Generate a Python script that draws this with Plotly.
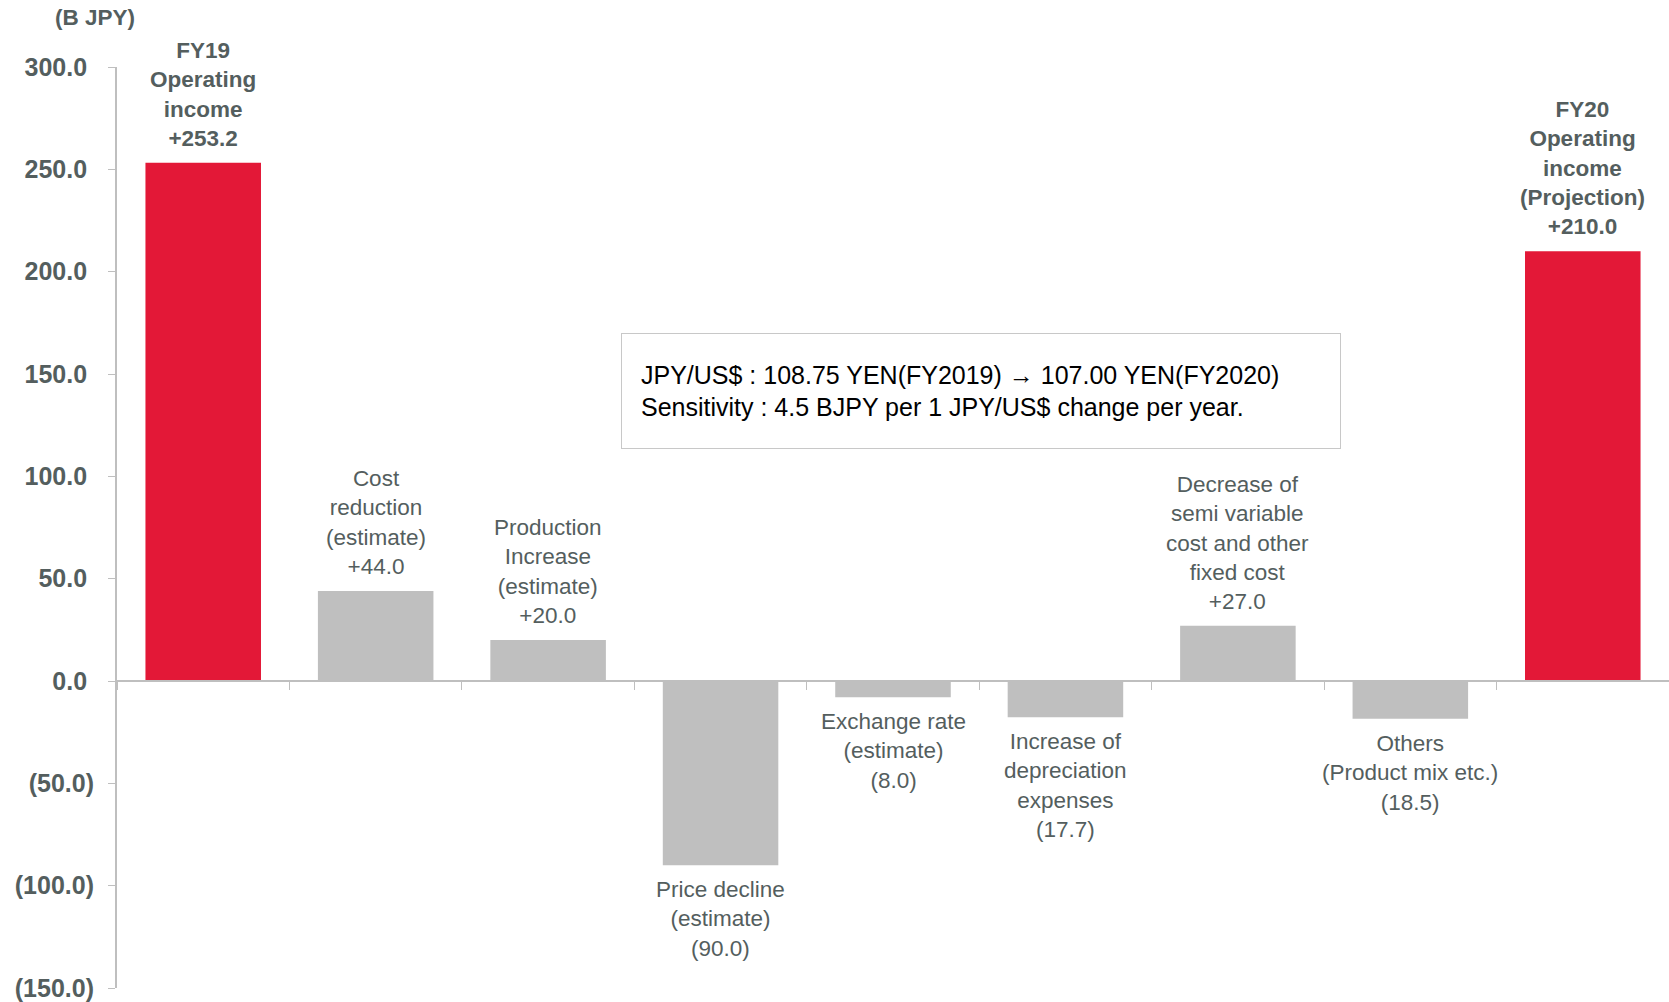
import plotly.graph_objects as go

# ---- data ----
categories = ["FY19", "Cost", "Production", "Price", "Exchange", "Depreciation", "SemiVariable", "Others", "FY20"]
values = [253.2, 44.0, 20.0, -90.0, -8.0, -17.7, 27.0, -18.5, 210.0]
label_names = [
    "FY19<br>Operating<br>income",
    "Cost<br>reduction<br>(estimate)",
    "Production<br>Increase<br>(estimate)",
    "Price decline<br>(estimate)",
    "Exchange rate<br>(estimate)",
    "Increase of<br>depreciation<br>expenses",
    "Decrease of<br>semi variable<br>cost and other<br>fixed cost",
    "Others<br>(Product mix etc.)",
    "FY20<br>Operating<br>income<br>(Projection)",
]
is_total = [True, False, False, False, False, False, False, False, True]
y_ticks = [300, 250, 200, 150, 100, 50, 0, -50, -100, -150]
unit_label = "(B JPY)"
note_lines = [
    "JPY/US$ : 108.75 YEN(FY2019) \u2192 107.00 YEN(FY2020)",
    "Sensitivity : 4.5 BJPY per 1 JPY/US$ change per year.",
]

RED = "#E31837"
GRAY = "#BFBFBF"
TXT = "#545E5E"
FONT = "Arial, Liberation Sans, sans-serif"


def fmt_val(v):
    return "+{:.1f}".format(v) if v >= 0 else "({:.1f})".format(-v)


def fmt_tick(v):
    return "{:.1f}\u00a0".format(v) if v >= 0 else "({:.1f})".format(-v)


colors = [RED if t else GRAY for t in is_total]

fig = go.Figure()
fig.add_trace(go.Bar(
    x=categories, y=values, marker=dict(color=colors, line=dict(width=0)),
    width=0.67, hoverinfo="skip", showlegend=False,
))

ymin, ymax = min(y_ticks), max(y_ticks)

annotations = []
for c, v, name, tot in zip(categories, values, label_names, is_total):
    txt = name + "<br>" + fmt_val(v)
    if tot:
        txt = "<b>" + txt.replace("<br>", "</b><br><b>") + "</b>"
    annotations.append(dict(
        x=c, y=v, xref="x", yref="y", text=txt, showarrow=False,
        yanchor="bottom" if v >= 0 else "top",
        yshift=10 if v >= 0 else -10,
        font=dict(family=FONT, size=22.5, color=TXT),
        align="center",
    ))

annotations.append(dict(
    x=0, y=1, xref="paper", yref="paper", xanchor="center", yanchor="middle",
    xshift=-22, yshift=50, text="<b>" + unit_label + "</b>", showarrow=False,
    font=dict(family=FONT, size=22.5, color=TXT),
))

annotations.append(dict(
    x=(620.5 - 117) / 1552, y=(988 - 333) / 921, xref="paper", yref="paper",
    xanchor="left", yanchor="top", text="<br>".join(note_lines), showarrow=False,
    align="left", valign="middle", width=680, height=76, borderpad=19,
    bordercolor="#C8C8C8", borderwidth=1, bgcolor="white",
    font=dict(family=FONT, size=25, color="#000000"),
))

fig.update_layout(
    width=1669, height=1002,
    margin=dict(l=117, r=0, t=67, b=14),
    paper_bgcolor="white", plot_bgcolor="white",
    bargap=0.33,
    annotations=annotations,
    xaxis=dict(
        type="category", range=[-0.5, len(categories) - 0.5],
        anchor="free", position=(0 - ymin) / (ymax - ymin), automargin=False,
        showline=True, linecolor=GRAY, linewidth=2,
        ticks="outside", tickson="boundaries", ticklen=8, tickcolor=GRAY, tickwidth=1,
        showticklabels=False, showgrid=False, zeroline=False,
    ),
    yaxis=dict(
        range=[ymin, ymax], tickvals=y_ticks, ticktext=[fmt_tick(v) for v in y_ticks],
        automargin=False,
        showline=True, linecolor=GRAY, linewidth=2,
        ticks="outside", ticklen=7, tickcolor=GRAY, tickwidth=1,
        showgrid=False, zeroline=False, ticklabelstandoff=9,
        tickfont=dict(family=FONT, size=25, color=TXT, weight="bold"),
    ),
)

fig.write_html("out.html", config={"displayModeBar": False},
               post_script="document.body.style.margin='0';")
